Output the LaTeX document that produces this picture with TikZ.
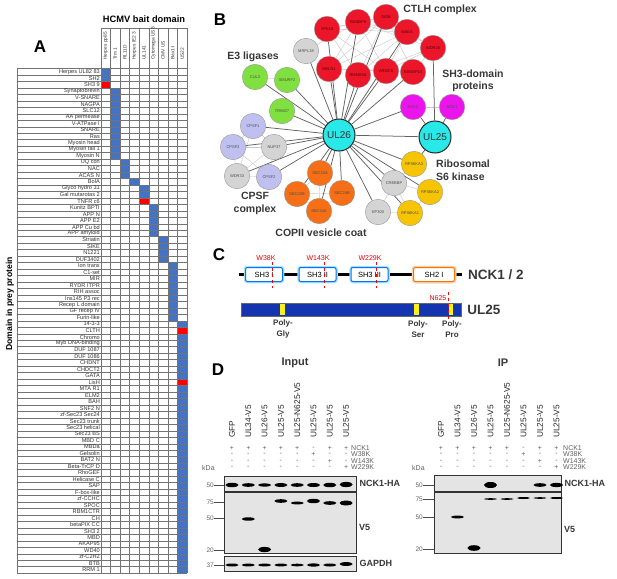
\documentclass[tikz,border=0pt]{standalone}
\usepackage{fontspec}
\setmainfont{Liberation Sans}
\usetikzlibrary{positioning,backgrounds}
\definecolor{hitblue}{RGB}{68,114,196}
\definecolor{hitred}{RGB}{255,0,0}
\definecolor{ctlhred}{RGB}{236,22,42}
\definecolor{e3green}{RGB}{128,224,64}
\definecolor{cpsfviolet}{RGB}{192,192,240}
\definecolor{nodegrey}{RGB}{212,212,212}
\definecolor{copiiorange}{RGB}{246,110,22}
\definecolor{rskyellow}{RGB}{246,196,0}
\definecolor{sh3magenta}{RGB}{236,20,236}
\definecolor{baitcyan}{RGB}{40,232,232}
\definecolor{ulblue}{RGB}{20,52,176}
\definecolor{polyyellow}{RGB}{250,242,20}
\definecolor{blotgrey}{RGB}{228,228,228}
\definecolor{labgrey}{RGB}{55,55,55}
\tikzset{
  panel/.style={font=\fontsize{17}{17}\selectfont\bfseries, inner sep=0pt},
  headlab/.style={font=\fontsize{9.3}{10}\selectfont\bfseries, inner sep=0pt},
  axislab/.style={font=\fontsize{8.6}{9}\selectfont\bfseries, inner sep=0pt, rotate=90},
  baitlab/.style={rotate=90, anchor=west, inner sep=0pt, font=\fontsize{4.8}{5}\selectfont, text=black!80},
  domlab/.style={anchor=east, inner sep=0pt, font=\fontsize{5.6}{6}\selectfont, text=black!80},
  hitA/.style={fill=hitblue},
  hitR/.style={fill=hitred},
  gridA/.style={draw=black!55, line width=0.45pt},
  pnode/.style={circle, draw=black!40, line width=0.4pt, minimum size=25.5pt, inner sep=0pt,
    font=\fontsize{4}{4}\selectfont, text=black!70},
  ctlh/.style={pnode, fill=ctlhred, text=red!35!black},
  greynode/.style={pnode, fill=nodegrey},
  e3/.style={pnode, fill=e3green},
  cpsf/.style={pnode, fill=cpsfviolet},
  copii/.style={pnode, fill=copiiorange},
  rsk/.style={pnode, fill=rskyellow},
  sh3/.style={pnode, fill=sh3magenta},
  bait/.style={circle, draw=black!85, line width=1pt, fill=baitcyan, minimum size=32pt, inner sep=0pt,
    font=\fontsize{10}{10}\selectfont, text=black!80},
  hub/.style={draw=black!62, line width=0.75pt},
  meshedge/.style={draw=black!22, line width=0.4pt},
  grouplab/.style={font=\fontsize{10.5}{12.5}\selectfont\bfseries, text=labgrey, inner sep=0pt},
  backbone/.style={draw=black, line width=2.6pt},
  sh3box/.style={draw=blue!55!cyan, line width=1pt, fill=white, rounded corners=2pt,
    preaction={draw=cyan!35, line width=3.5pt}, minimum width=37pt, minimum height=14pt,
    inner sep=0pt, font=\fontsize{7.5}{8}\selectfont},
  sh2box/.style={sh3box, draw=orange!90!red, preaction={draw=orange!35, line width=3.5pt}, minimum width=41pt},
  protlab/.style={font=\fontsize{13.5}{14}\selectfont\bfseries, text=labgrey, inner sep=0pt},
  mutlab/.style={font=\fontsize{7}{7}\selectfont, text=red!90!black, inner sep=0pt},
  mut/.style={draw=red, dashed, line width=0.6pt},
  ulbar/.style={draw=black!60, line width=0.5pt, fill=ulblue, minimum width=220pt, minimum height=13pt, inner sep=0pt},
  polytick/.style={fill=polyyellow},
  polylab/.style={font=\fontsize{8}{11}\selectfont\bfseries, text=labgrey, align=center, inner sep=0pt},
  blottitle/.style={font=\fontsize{11}{11}\selectfont\bfseries, text=labgrey, inner sep=0pt},
  lanelab/.style={rotate=90, anchor=west, inner sep=0pt, font=\fontsize{8.3}{8.3}\selectfont, text=black!85},
  rowlab/.style={anchor=west, inner sep=0pt, font=\fontsize{7}{7}\selectfont, text=black!62},
  sign/.style={inner sep=0pt, font=\fontsize{7}{7}\selectfont, text=black!62},
  mwlab/.style={anchor=east, inner sep=0pt, font=\fontsize{6.5}{6.5}\selectfont, text=black!62},
  mwtick/.style={draw=black!70, line width=1pt},
  blot/.style={draw=black!80, line width=0.9pt, fill=blotgrey, inner sep=0pt},
  blotlab/.style={font=\fontsize{9}{9}\selectfont\bfseries, text=labgrey, inner sep=0pt},
  band/.style={fill=black}
}
\begin{document}
\begin{tikzpicture}[x=1pt,y=-1pt]% toạ độ theo điểm ảnh
  \useasboundingbox (0,0) rectangle (617,578);
  % Hình A
  \def\ax{101}\def\aw{9.55}\def\at{68.5}\def\ah{6.47}\def\al{17}
  \pgfmathsetmacro\ab{\at+78*\ah}
  \pgfmathsetmacro\ar{\ax+9*\aw}
  \node[panel] (A) at (40,47) {A};
  \node[headlab] (baitA) at (144,19) {HCMV bait domain};
  \node[axislab] (preyA) at (10,304) {Domain in prey protein};
  \foreach \c/\a/\b in {1/1/2,2/4/14,3/15/17,4/18/18,5/19/20,6/22/26,7/27/30,8/31/39,9/40/78}
    \fill[hitA] ({\ax+(\c-1)*\aw},{\at+(\a-1)*\ah}) rectangle ++(\aw,{(\b-\a+1)*\ah});
  \foreach \c/\a in {1/3,5/21,9/41,9/49}
    \fill[hitR] ({\ax+(\c-1)*\aw},{\at+(\a-1)*\ah}) rectangle ++(\aw,\ah);
  \foreach \i in {0,...,78}
    \draw[gridA] (\al,{\at+\i*\ah}) -- (\ar,{\at+\i*\ah});
  \draw[gridA] (\al,\at) -- (\al,\ab) (\ax,28) -- (\ar,28);
  \foreach \c in {0,...,9}
    \draw[gridA] ({\ax+\c*\aw},28) -- ({\ax+\c*\aw},\ab);
  \foreach \lab [count=\i] in {Herpes pp85,Trm 1,RL11D,Herpes IE2 3,UL141,Cytomega US3,CMV US,Bax1-I,US22}
    \node[baitlab] (bait\i) at ({\ax+(\i-0.5)*\aw},60) {\lab};
  \foreach \lab [count=\i] in {Herpes UL82 83,SH2,SH3 9,Synaptobrevin,V-SNARE,NAGPA,SLC12,AA permease,
      V-ATPase I,SNARE,Ras,Myosin head,Myosin tail 1,Myosin N,UQ con,NAC,ACAS N,BolA,Glyco hydro 31,
      Gal mutarotas 2,TNFR c6,Kunitz BPTI,APP N,APP E2,APP Cu bd,APP amyloid,Striatin,SIKE,N1221,DUF3402,
      Ion trans,C1-set,MIR,RYDR ITPR,RIH assoc,Ins145 P3 rec,Recep L domain,GF recep IV,Furin-like,
      14-3-3,CLTH,Chromo,Myb DNA-binding,DUF 1087,DUF 1086,CHDNT,CHDCT2,GATA,LisH,MTA R1,ELM2,BAH,
      SNF2 N,zf-Sec23 Sec24,Sec23 trunk,Sec23 helical,Sec23 BS,MBD C,MBDa,Gelsolin,BAT2 N,Beta-TrCP D,
      RhoGEF,Helicase C,SAP,F-box-like,zf-CCHC,SPOC,RBM1CTR,CH,betaPIX CC,SH3 2,MBD,AKAP95,WD40,
      zf-C2H2,BTB,RRM 1}
    \node[domlab] (dom\i) at (100,{\at+(\i-0.5)*\ah}) {\lab};
  % Hình B
  \node[panel] (B) at (220,20) {B};
  \node[bait] (UL26) at (339,135) {UL26};
  \node[bait] (UL25) at (435,137) {UL25};
  \foreach \n/\x/\y/\s in {YPEL5/327/29/ctlh,RANBP9/358/22/ctlh,GID8/386/17/ctlh,MAEA/407/32/ctlh,
      WDR26/433/48/ctlh,RANBP10/413/72/ctlh,ARMC8/386/71/ctlh,RMND5A/358/75/ctlh,MKLN1/329/69/ctlh,
      MRPL38/306/51/greynode,CUL3/255/77/e3,SMURF2/287/80/e3,TRIM27/282/111/e3,
      CPSF1/253/126/cpsf,CPSF3/233/147/cpsf,NUP37/274/147/greynode,WDR33/237/176/greynode,CPSF2/269/177/cpsf,
      SEC23A/320/173/copii,SEC23B/297/194/copii,SEC24B/342/193/copii,SEC24A/319/211/copii,
      EP300/378/212/greynode,CREBBP/394/183/greynode,
      RPS6KA3/414/164/rsk,RPS6KA2/430/192/rsk,RPS6KA1/410/213/rsk,NCK2/413/107/sh3,NCK1/452/107/sh3}
    \node[\s] (\n) at (\x,\y) {\n};
  \begin{pgfonlayer}{background}
    \foreach \a/\b in {YPEL5/RANBP9,YPEL5/GID8,YPEL5/MAEA,YPEL5/ARMC8,YPEL5/RMND5A,RANBP9/GID8,
        RANBP9/MAEA,RANBP9/WDR26,RANBP9/ARMC8,RANBP9/MKLN1,GID8/MAEA,GID8/WDR26,GID8/MKLN1,
        GID8/RANBP10,GID8/RMND5A,MAEA/WDR26,MAEA/ARMC8,MAEA/RMND5A,MAEA/MKLN1,WDR26/ARMC8,
        WDR26/RANBP10,WDR26/RMND5A,ARMC8/RANBP10,MKLN1/ARMC8,MKLN1/RANBP10,MRPL38/RANBP9,
        CUL3/SMURF2,CPSF1/CPSF3,CPSF1/NUP37,CPSF3/NUP37,CPSF3/WDR33,NUP37/WDR33,NUP37/CPSF2,
        WDR33/CPSF2,CPSF3/CPSF2,CPSF1/WDR33,SEC23A/SEC23B,SEC23A/SEC24A,SEC23B/SEC24B,SEC23B/SEC24A,
        SEC24B/SEC24A,CREBBP/EP300,CREBBP/RPS6KA1,CREBBP/RPS6KA2,RPS6KA2/RPS6KA1,EP300/RPS6KA1,
        CREBBP/RPS6KA3,NCK2/NCK1}
      \draw[meshedge] (\a) -- (\b);
    \foreach \n in {MRPL38,YPEL5,MKLN1,RANBP9,RMND5A,GID8,ARMC8,RANBP10,MAEA,CUL3,SMURF2,TRIM27,
        CPSF1,CPSF3,NUP37,WDR33,CPSF2,SEC23A,SEC23B,SEC24B,SEC24A,EP300,CREBBP,RPS6KA3,RPS6KA2,
        RPS6KA1,NCK2,UL25}
      \draw[hub] (UL26) -- (\n);
    \foreach \n in {WDR26,NCK1,NCK2,RPS6KA3}
      \draw[hub] (UL25) -- (\n);
  \end{pgfonlayer}
  \node[grouplab] (ctlhlab) at (440,10) {CTLH complex};
  \node[grouplab] (e3lab) at (253,57) {E3 ligases};
  \node[grouplab, align=center] (sh3lab) at (473,81) {SH3-domain\\proteins};
  \node[grouplab, align=left, anchor=west] (rsklab) at (436,170) {Ribosomal\\S6 kinase};
  \node[grouplab, align=center] (cpsflab) at (255,203.5) {CPSF\\complex};
  \node[grouplab] (copiilab) at (321,233) {COPII vesicle coat};
  % Hình C
  \node[panel] (C) at (219,255) {C};
  \coordinate (nckL) at (239,274.5);
  \coordinate (nckR) at (462,274.5);
  \draw[backbone] (nckL) -- (nckR);
  \node[sh3box] (sh3i) at (264,274.5) {SH3 I};
  \node[sh3box] (sh3ii) at (317.5,274.5) {SH3 II};
  \node[sh3box] (sh3iii) at (369.5,274.5) {SH3 III};
  \node[sh2box] (sh2i) at (434,274.5) {SH2 I};
  \node[protlab, anchor=west] (nck) at (468,274.5) {NCK1 / 2};
  \foreach \m/\x in {W38K/272,W143K/324,W229K/376}{
    \node[mutlab] (\m) at ({\x-6},258) {\m};
    \draw[mut] (\x,262) -- (\x,288);
  }
  \node[ulbar] (ulbar) at (351,309.5) {};
  \foreach \x/\w in {282.5/5,416.5/5,451/4.5}
    \fill[polytick] ({\x-\w/2},304) rectangle ({\x+\w/2},315);
  \node[mutlab] (N625) at (438,298) {N625};
  \draw[mut] (448,292) -- (448,321);
  \node[protlab, right=6pt of ulbar] (ul25lab) {UL25};
  \node[polylab] (gly) at (283,329) {Poly-\\Gly};
  \node[polylab] (ser) at (418,329) {Poly-\\Ser};
  \node[polylab] (pro) at (452,329) {Poly-\\Pro};
  % Hình D
  \node[panel] (D) at (218,370) {D};
  \def\lanes#1#2#3{% #1 tên, #2 x làn đầu, #3 x nhãn hàng
    \foreach \lab [count=\i] in {GFP,UL34-V5,UL26-V5,UL25-V5,UL25-N625-V5,UL25-V5,UL25-V5,UL25-V5}
      \node[lanelab] (#1lane\i) at ({#2+(\i-1)*\lw},438) {\lab};
    \foreach \r/\y/\sg in {NCK1/448/{+,+,+,+,+,-,+,+},W38K/454.5/{-,-,-,-,-,+,-,-},
        W143K/461/{-,-,-,-,-,-,+,-},W229K/467.5/{-,-,-,-,-,-,-,+}}{
      \node[rowlab] (#1\r) at (#3,\y) {\r};
      \foreach \s [count=\i] in \sg
        \node[sign] (#1\r s\i) at ({#2+(\i-1)*\lw},\y) {\s};
    }
  }
  \def\bands#1#2{% #1 x làn đầu, #2 làn/y/nửa cao
    \foreach \l/\y/\h in {#2}
      \fill[band] ({#1+(\l-1)*\lw},\y) ellipse (6.6pt and \h pt);
  }
  % Input
  \def\lw{16.3}
  \node[blottitle] (input) at (295,363) {Input};
  \lanes{in}{232}{351}
  \node[rowlab] (inkda) at (202,468) {kDa};
  \node[blot, minimum width=132pt, minimum height=15pt] (inHA) at (290,483.5) {};
  \node[blot, minimum width=132pt, minimum height=61pt] (inV5) at (290,522.5) {};
  \node[blot, minimum width=132pt, minimum height=15pt] (inGAPDH) at (290,563.5) {};
  \node[blotlab, anchor=west, right=3pt of inHA] (inHAlab) {NCK1-HA};
  \node[blotlab, anchor=west] (inV5lab) at (359,527) {V5};
  \node[blotlab, anchor=west, right=3pt of inGAPDH] (inGAPDHlab) {GAPDH};
  \foreach \m/\y [count=\k] in {50/485,75/502,50/518,20/550,37/565}{
    \node[mwlab] (inmw\k) at (214,\y) {\m};
    \draw[mwtick] (inmw\k.east) -- (inmw\k.east -| inHA.west);
  }
  \bands{232}{1/485/2.2,2/485/1.8,3/485/1.6,4/485/1.9,5/485/1.8,6/485/2,7/485/2.2,8/484.5/2.6,
    4/501/1.8,5/503/1.4,6/501/2.2,7/503/1.8,8/503/2.4,2/519/1.7,3/549.5/2.6,
    1/565/1.5,2/565/1.4,3/565/1.4,4/565/1.4,5/565/1.3,6/565/1.6,7/565/1.5,8/564/1.9}
  % IP
  \def\lw{16.5}
  \node[blottitle] (ip) at (503,363) {IP};
  \lanes{ip}{441}{563}
  \node[rowlab] (ipkda) at (412,468) {kDa};
  \node[blot, minimum width=127pt, minimum height=16pt] (ipHA) at (497.5,483) {};
  \node[blot, minimum width=127pt, minimum height=61pt] (ipV5) at (497.5,522.5) {};
  \node[blotlab, anchor=west, right=3pt of ipHA] (ipHAlab) {NCK1-HA};
  \node[blotlab, anchor=west] (ipV5lab) at (564,529) {V5};
  \foreach \m/\y [count=\k] in {50/485,75/499,50/517,20/549}{
    \node[mwlab] (ipmw\k) at (423,\y) {\m};
    \draw[mwtick] (ipmw\k.east) -- (ipmw\k.east -| ipHA.west);
  }
  \bands{441}{4/485/3,7/485/1.8,8/485/2.1,
    4/499/0.8,5/499/0.8,6/498/1,7/498/0.8,8/498/1,2/517/1.4,3/548/2.8}
\end{tikzpicture}
\end{document}
